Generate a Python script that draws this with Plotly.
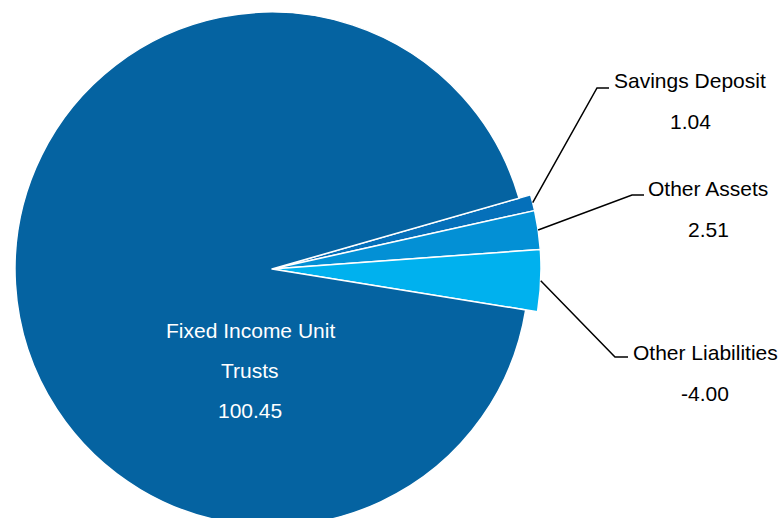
import math
import plotly.graph_objects as go

# ---- data ----
labels = ["Savings Deposit", "Other Assets", "Other Liabilities", "Fixed Income Unit Trusts"]
label_lines = [["Savings Deposit"], ["Other Assets"], ["Other Liabilities"], ["Fixed Income Unit", "Trusts"]]
values = [1.04, 2.51, -4.00, 100.45]
colors = ["#0570BA", "#0390D5", "#00B1EE", "#0563A1"]

sizes = [abs(v) for v in values]
texts = [f"{v:.2f}" for v in values]

# ---- layout constants (pixels) ----
W, H = 783, 538
CX, CY = 272, H / 2
R_OUT = H / 2          # radius of the small slices
R_BIG = 257            # radius of the large slice
ROT = 74               # start angle, degrees clockwise from 12 o'clock
FS = 21
FONT = "Liberation Sans, Arial, sans-serif"


def px(x):
    return x / W


def py(y):
    return 1 - y / H


def dom(r):
    return dict(x=[px(CX - r), px(CX + r)], y=[py(CY + r), py(CY - r)])


transparent = "rgba(0,0,0,0)"
is_big = [i == len(values) - 1 for i in range(len(values))]

fig = go.Figure()
# outer pie: small slices only
fig.add_trace(go.Pie(
    labels=labels, values=sizes, sort=False, direction="clockwise", rotation=ROT,
    marker=dict(colors=[transparent if b else c for b, c in zip(is_big, colors)],
                line=dict(color="white", width=[0 if b else 1.5 for b in is_big])),
    textinfo="none", hoverinfo="label+text", text=texts, domain=dom(R_OUT), showlegend=False,
))
# inner pie: big slice only
fig.add_trace(go.Pie(
    labels=labels, values=sizes, sort=False, direction="clockwise", rotation=ROT,
    marker=dict(colors=[c if b else transparent for b, c in zip(is_big, colors)],
                line=dict(color="white", width=[1.5 if b else 0 for b in is_big])),
    textinfo="none", hoverinfo="label+text", text=texts, domain=dom(R_BIG), showlegend=False,
))

# slice mid-angles (clockwise from top) from the data
total = sum(sizes)
mids = []
acc = ROT
for s in sizes:
    span = s / total * 360
    mids.append(acc + span / 2)
    acc += span

# callout layout: (elbow x, elbow y, elbow end x, label centre x, first line centre y)
callouts = [
    (597, 88, 609, 690, 81),
    (632, 195, 644, 708, 188),
    (615, 357, 628, 705, 352),
]
LINE_GAP = 41

annotations = []
shapes = []
for i, (ex, ey, hx, tx, ty) in enumerate(callouts):
    a = math.radians(mids[i])
    sx = CX + R_OUT * math.sin(a)
    sy = CY - R_OUT * math.cos(a)
    shapes.append(dict(
        type="path", xref="paper", yref="paper",
        path=f"M {px(sx)} {py(sy)} L {px(ex)} {py(ey)} L {px(hx)} {py(ey)}",
        line=dict(color="black", width=1.5),
    ))
    lines = label_lines[i] + [texts[i]]
    for k, t in enumerate(lines):
        annotations.append(dict(
            x=px(tx), y=py(ty + k * LINE_GAP), xref="paper", yref="paper",
            text=t, showarrow=False, xanchor="center", yanchor="middle",
            font=dict(family=FONT, size=FS, color="black"),
        ))

# label inside the big slice
big = len(values) - 1
for k, t in enumerate(label_lines[big] + [texts[big]]):
    annotations.append(dict(
        x=px(250), y=py(330 + k * 40), xref="paper", yref="paper",
        text=t, showarrow=False, xanchor="center", yanchor="middle",
        font=dict(family=FONT, size=FS, color="white"),
    ))

fig.update_layout(
    width=W, height=H,
    margin=dict(l=0, r=0, t=0, b=0),
    paper_bgcolor="white", plot_bgcolor="white",
    shapes=shapes, annotations=annotations,
)

fig.write_html("out.html", config={"displayModeBar": False},
               post_script="document.body.style.margin='0';")
